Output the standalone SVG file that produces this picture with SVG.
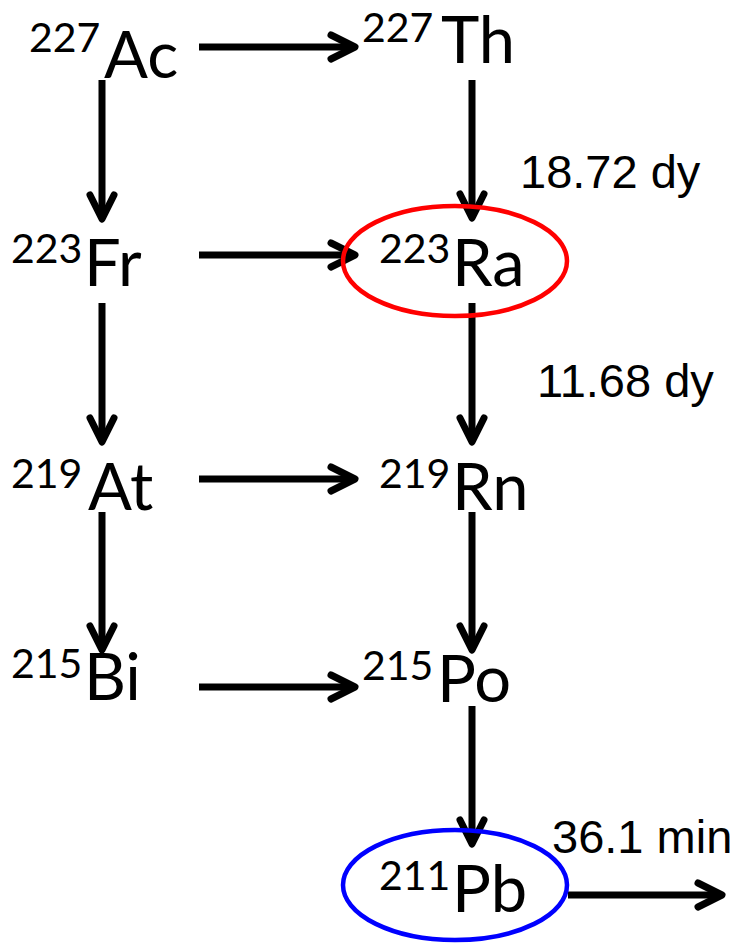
<svg xmlns="http://www.w3.org/2000/svg" width="740" height="945" viewBox="0 0 740 945">
<style>
.sup{font-family:Lato,"Open Sans",sans-serif;font-size:41px;fill:#000}
.sym{font-family:Lato,"Open Sans",sans-serif;font-size:65px;fill:#000}
.lbl{font-family:"Liberation Sans",Arial,sans-serif;font-size:47px;fill:#000}
.c{stroke:#000;stroke-width:7;fill:none;marker-end:url(#ah)}
</style>
<defs>
<marker id="ah" markerUnits="userSpaceOnUse" markerWidth="44" markerHeight="44" viewBox="-34 -22 44 44" refX="0" refY="0" orient="auto">
<path d="M-24,-12 L0,0 L-24,12" fill="none" stroke="#000" stroke-width="7" stroke-linecap="round" stroke-linejoin="round"/>
</marker>
</defs>
<rect width="740" height="945" fill="#fff"/>
<g id="connectors">
<line class="c" x1="199" y1="47" x2="355" y2="47"/>
<line class="c" x1="199" y1="255" x2="355" y2="255"/>
<line class="c" x1="199" y1="479" x2="355" y2="479"/>
<line class="c" x1="199" y1="687" x2="355" y2="687"/>
<line class="c" x1="102" y1="80" x2="102" y2="219"/>
<line class="c" x1="102" y1="303" x2="102" y2="442"/>
<line class="c" x1="102" y1="512" x2="102" y2="650"/>
<line class="c" x1="472" y1="80" x2="472" y2="218"/>
<line class="c" x1="472" y1="303" x2="472" y2="442"/>
<line class="c" x1="472" y1="512" x2="472" y2="650"/>
<line class="c" x1="472" y1="706" x2="472" y2="844"/>
<line class="c" x1="568" y1="895" x2="722" y2="895"/>
</g>
<g id="labels">
<text class="lbl" x="520" y="188">18.72 dy</text>
<text class="lbl" x="537" y="397">11.68 dy</text>
<text class="lbl" x="552" y="853">36.1 min</text>
</g>
<g id="Ac227"><text><tspan class="sup" x="29" y="52">227</tspan><tspan class="sym" x="104" y="78">Ac</tspan></text></g>
<g id="Th227"><text><tspan class="sup" x="362" y="42">227</tspan><tspan class="sym" x="441" y="63">Th</tspan></text></g>
<g id="Fr223"><text><tspan class="sup" x="11" y="263">223</tspan><tspan class="sym" x="84" y="286">Fr</tspan></text></g>
<g id="Ra223"><ellipse cx="455" cy="261" rx="112" ry="55" fill="none" stroke="#ff0000" stroke-width="4.5"/><text><tspan class="sup" x="379" y="263">223</tspan><tspan class="sym" x="452" y="286">Ra</tspan></text></g>
<g id="At219"><text><tspan class="sup" x="11" y="488">219</tspan><tspan class="sym" x="88" y="510">At</tspan></text></g>
<g id="Rn219"><text><tspan class="sup" x="379" y="488">219</tspan><tspan class="sym" x="452" y="510">Rn</tspan></text></g>
<g id="Bi215"><text><tspan class="sup" x="11" y="678">215</tspan><tspan class="sym" x="84" y="700">Bi</tspan></text></g>
<g id="Po215"><text><tspan class="sup" x="362" y="680">215</tspan><tspan class="sym" x="437" y="702">Po</tspan></text></g>
<g id="Pb211"><ellipse cx="455" cy="885" rx="112" ry="55" fill="none" stroke="#0000ff" stroke-width="4.5"/><text><tspan class="sup" x="379" y="890">211</tspan><tspan class="sym" x="452" y="912">Pb</tspan></text></g>
</svg>
